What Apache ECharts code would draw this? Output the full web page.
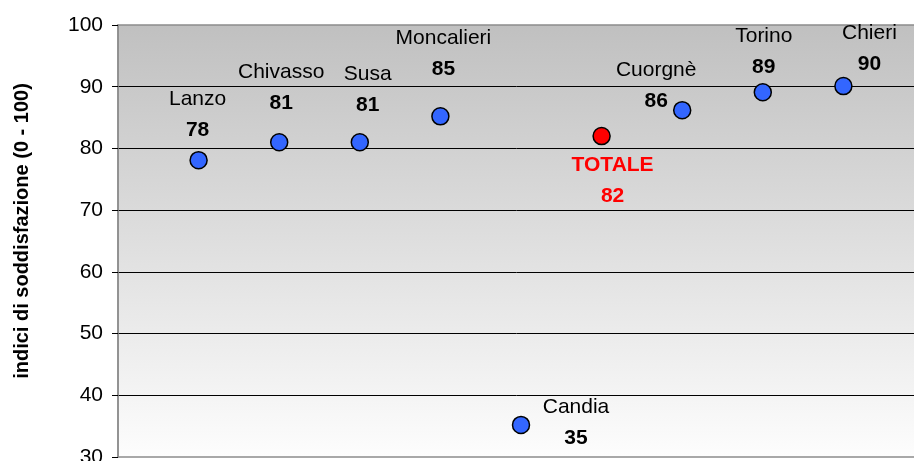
<!DOCTYPE html>
<html>
<head>
<meta charset="utf-8">
<style>
  html, body { margin: 0; padding: 0; background: #fff; }
  #chart { width: 914px; height: 461px; }
</style>
<script src="https://cdn.jsdelivr.net/npm/echarts@6/dist/echarts.min.js"></script>
</head>
<body>
<div id="chart"></div>
<script>
// sedi, in ordine da sinistra a destra
const places = ['Lanzo', 'Chivasso', 'Susa', 'Moncalieri', 'Candia', 'TOTALE', 'Cuorgnè', 'Torino', 'Chieri'];
const scores = [78.1, 81, 81, 85.2, 35.2, 82, 86.2, 89.1, 90.1];
const yTicks = [30, 40, 50, 60, 70, 80, 90, 100];

// posizione delle etichette rispetto al punto
const labelOffsets = [[-1, -45], [2, -55], [8, -53], [3, -63], [55, -2], [11, 45], [-26, -24], [1, -41], [26, -37]];

const FONT = '"Liberation Sans", Arial, sans-serif';

const points = places.map((name, i) => {
    const isTot = name === 'TOTALE';
    return {
        name: name,
        value: [i + 1, scores[i]],
        itemStyle: { color: isTot ? '#ff0000' : '#3366ff' },
        label: {
            offset: labelOffsets[i],
            rich: isTot ? {
                n: { fontSize: 21, fontWeight: 'bold', color: '#ff0000', lineHeight: 31, fontFamily: FONT },
                v: { fontSize: 21, fontWeight: 'bold', color: '#ff0000', lineHeight: 31, fontFamily: FONT }
            } : undefined
        }
    };
});

const myChart = echarts.init(document.getElementById('chart'));
myChart.setOption({
    animation: false,
    grid: {
        left: 118,
        top: 25,
        width: 806,
        height: 432,
        outerBoundsMode: 'none',
        containLabel: false,
        show: true,
        borderColor: '#8c8c8c',
        borderWidth: 1.5,
        backgroundColor: new echarts.graphic.LinearGradient(0, 0, 0, 1, [
            { offset: 0, color: '#c0c0c0' },
            { offset: 1, color: '#fdfdfd' }
        ])
    },
    xAxis: {
        type: 'value',
        min: 0,
        max: 10,
        show: false
    },
    yAxis: {
        type: 'value',
        min: yTicks[0],
        max: yTicks[yTicks.length - 1],
        interval: 10,
        axisLine: { show: true, lineStyle: { color: '#8c8c8c', width: 1.5 } },
        axisTick: { show: true, length: 6, lineStyle: { color: '#000' } },
        axisLabel: { fontSize: 21, color: '#000', fontFamily: FONT, margin: 15 },
        splitLine: {
            show: true,
            showMinLine: false,
            showMaxLine: false,
            lineStyle: { color: '#000', width: 1 }
        }
    },
    graphic: [{
        type: 'text',
        x: 22,
        y: 231,
        rotation: Math.PI / 2,
        style: {
            text: 'indici di soddisfazione (0 - 100)',
            font: 'bold 20px ' + FONT,
            fill: '#000',
            textAlign: 'center',
            textVerticalAlign: 'middle'
        }
    }],
    series: [{
        type: 'scatter',
        symbol: 'circle',
        symbolSize: 17,
        itemStyle: { borderColor: '#000', borderWidth: 1.5, opacity: 1 },
        label: {
            show: true,
            position: 'inside',
            align: 'center',
            verticalAlign: 'middle',
            formatter: p => '{n|' + p.name + '}\n{v|' + Math.round(p.value[1]) + '}',
            rich: {
                n: { fontSize: 21, color: '#000', lineHeight: 31, fontFamily: FONT },
                v: { fontSize: 21, fontWeight: 'bold', color: '#000', lineHeight: 31, fontFamily: FONT }
            }
        },
        emphasis: { disabled: true },
        data: points
    }]
});
</script>
</body>
</html>
